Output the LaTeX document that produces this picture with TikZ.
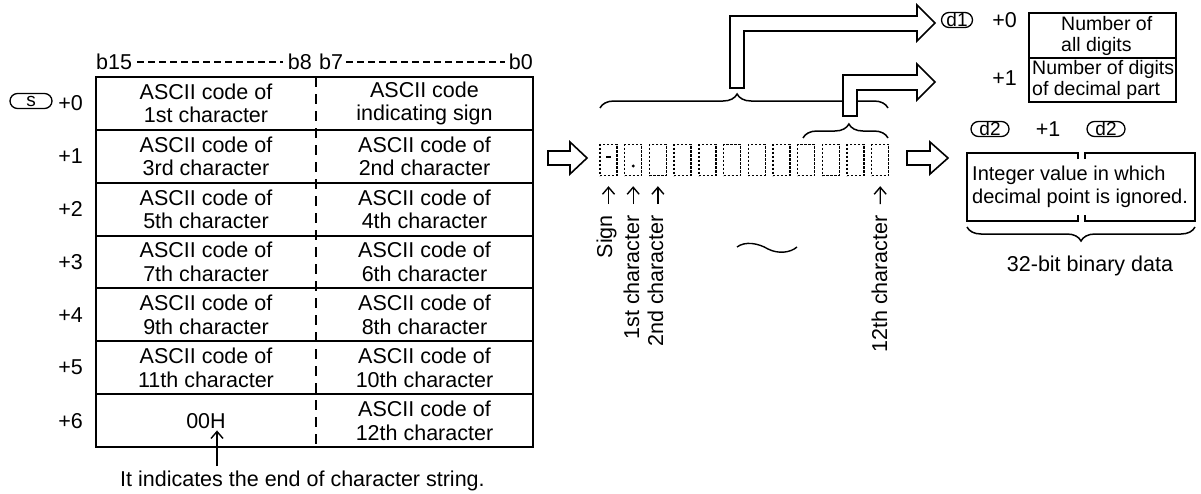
\documentclass[tikz,border=0pt]{standalone}
\usepackage{fontspec}
\setmainfont{Liberation Sans}
\usetikzlibrary{arrows.meta,decorations.pathreplacing,calc}
\begin{document}
\begin{tikzpicture}[x=1pt,y=-1pt,
  txt/.style={font=\fontsize{21.5}{23.5}\selectfont, align=center, inner sep=0pt},
  sml/.style={font=\fontsize{19.5}{21}\selectfont, align=left, inner sep=0pt},
  mid/.style={font=\fontsize{20}{23}\selectfont, align=left, inner sep=0pt},
  ln/.style={line width=2pt},
  hdash/.style={line width=1.2pt, dash pattern=on 7pt off 4pt},
  vdash/.style={line width=2pt, dash pattern=on 10pt off 7pt},
  pill/.style={draw, line width=1.3pt, rounded corners=7.5pt, minimum height=15pt, inner sep=0pt, font=\fontsize{19}{19}\selectfont},
  hollow/.style={draw, line width=1.6pt, fill=white, line join=miter},
  dotbox/.style={draw, line width=1.4pt, dash pattern=on 2.2pt off 1.8pt, minimum width=17pt, minimum height=31pt, inner sep=0pt},
  uparr/.style={-{Straight Barb[length=7pt,width=12pt]}, line width=1.4pt},
  brc/.style={decorate, line width=1.5pt},
]
\useasboundingbox (0,0) rectangle (1201,493);

% ---------- header ----------
\node[txt, anchor=west] (b15) at (96,62) {b15};
\node[txt, anchor=east] (b8) at (312,62) {b8};
\node[txt, anchor=west] (b7) at (319,62) {b7};
\node[txt, anchor=east] (b0) at (533,62) {b0};
\draw[hdash] ([xshift=5pt]b15.east) -- ([xshift=-5pt]b8.west);
\draw[hdash] ([xshift=3pt]b7.east) -- ([xshift=-4pt]b0.west);

% ---------- table ----------
\draw[ln] (96,77) rectangle (533,447);
\foreach \k in {1,...,6} \draw[ln] (96,{77+52.857*\k}) -- (533,{77+52.857*\k});
\draw[vdash] (316,77) -- (316,447);

\node[txt] (l0) at (206,103.4) {ASCII code of\\1st character};
\node[txt] (r0) at (424.5,103.4) {ASCII code\\indicating sign};
\node[txt] (l1) at (206,156.3) {ASCII code of\\3rd character};
\node[txt] (r1) at (424.5,156.3) {ASCII code of\\2nd character};
\node[txt] (l2) at (206,209.1) {ASCII code of\\5th character};
\node[txt] (r2) at (424.5,209.1) {ASCII code of\\4th character};
\node[txt] (l3) at (206,262) {ASCII code of\\7th character};
\node[txt] (r3) at (424.5,262) {ASCII code of\\6th character};
\node[txt] (l4) at (206,314.9) {ASCII code of\\9th character};
\node[txt] (r4) at (424.5,314.9) {ASCII code of\\8th character};
\node[txt] (l5) at (206,367.7) {ASCII code of\\11th character};
\node[txt] (r5) at (424.5,367.7) {ASCII code of\\10th character};
\node[txt] (n00H) at (206,420.6) {00H};
\node[txt] (r6) at (424.5,420.6) {ASCII code of\\12th character};

% ---------- left labels ----------
\node[pill, minimum width=42pt] (s) at (31,101) {s};
\node[txt, anchor=east] (p0) at (83,103.4) {+0};
\node[txt, anchor=east] (p1) at (83,156.3) {+1};
\node[txt, anchor=east] (p2) at (83,209.1) {+2};
\node[txt, anchor=east] (p3) at (83,262) {+3};
\node[txt, anchor=east] (p4) at (83,314.9) {+4};
\node[txt, anchor=east] (p5) at (83,367.7) {+5};
\node[txt, anchor=east] (p6) at (83,420.6) {+6};

% ---------- end-of-string note ----------
\coordinate (eos) at (217,466);
\draw[uparr, shorten >=2pt] (eos) -- (eos |- n00H.south);
\node[txt, anchor=west] (note) at (120,481) {It indicates the end of character string.};

% ---------- hollow arrow 1 ----------
\draw[hollow] (548,151) -- (570,151) -- (570,142) -- (587,158) -- (570,174) -- (570,165) -- (548,165) -- cycle;

% ---------- character boxes ----------
\foreach \i in {1,...,12} {
  \node[dotbox] (c\i) at ({608.5+(\i-1)*24.7},160) {};
}
\draw[line width=1.3pt] ($(c1)+(-2.5,-3)$) -- ++(5,0);
\fill ($(c2)+(0,6)$) circle (1.7pt);

% arrows + labels under boxes
\coordinate (a1) at (608.5,204);
\coordinate (a2) at (633.2,204);
\coordinate (a3) at (657.9,204);
\coordinate (a12) at (880.2,204);
\draw[uparr, shorten >=10pt] (a1) -- (c1.south);
\draw[uparr, shorten >=10pt] (a2) -- (c2.south);
\draw[uparr, shorten >=10pt] (a3) -- (c3.south);
\draw[uparr, shorten >=10pt] (a12) -- (c12.south);
\node[txt, rotate=90, anchor=base east] (lsign) at (612,215) {Sign};
\node[txt, rotate=90, anchor=base east] (lc1) at (639,215) {1st character};
\node[txt, rotate=90, anchor=base east] (lc2) at (663,215) {2nd character};
\node[txt, rotate=90, anchor=base east] (lc12) at (887,215) {12th character};

% wave
\draw[line width=1.4pt] (737,247) .. controls (745,241) and (758,243) .. (768,249) .. controls (778,254) and (790,253) .. (797,247);

% ---------- braces ----------
\draw[brc, decoration={brace, amplitude=14pt, aspect=0.476}] (600,108) -- (888,108);
\draw[brc, decoration={brace, amplitude=14pt, aspect=0.54}] (803,138) -- (888,138);

% ---------- bent hollow arrows ----------
\draw[hollow] (730,88) -- (730,16) -- (917,16) -- (917,5) -- (935,23) -- (917,41) -- (917,31) -- (744,31) -- (744,88) -- cycle;
\draw[hollow] (843,116) -- (843,75) -- (917,75) -- (917,64) -- (935,82) -- (917,100) -- (917,90) -- (857,90) -- (857,116) -- cycle;

% ---------- d1 area ----------
\node[pill, minimum width=31pt] (d1) at (957,20) {d1};
\node[txt, anchor=east] (q0) at (1017,20) {+0};
\node[txt, anchor=east] (q1) at (1017,78) {+1};
\draw[ln] (1029,13) rectangle (1176,102);
\draw[ln] (1029,58) -- (1176,58);
\node[sml, anchor=west] (nall) at (1061,36) {Number of\\all digits};
\node[sml, anchor=west] (ndec) at (1032,80) {Number of digits\\of decimal part};

% ---------- d2 area ----------
\node[pill, minimum width=38pt] (d2a) at (990,129) {d2};
\node[txt] (q2) at (1048,129) {+1};
\node[pill, minimum width=38pt] (d2b) at (1106,129) {d2};
\draw[hollow] (907,151) -- (930,151) -- (930,142) -- (948,158) -- (930,174) -- (930,165) -- (907,165) -- cycle;
\draw[ln] (1078,159) -- (1078,153) -- (967,153) -- (967,221) -- (1078,221) -- (1078,215);
\draw[ln] (1085,159) -- (1085,153) -- (1195,153) -- (1195,221) -- (1085,221) -- (1085,215);
\node[mid, anchor=west] (intv) at (972,187) {Integer value in which\\decimal point is ignored.};
\draw[brc, decoration={brace, amplitude=14pt, aspect=0.5}] (1195,227) -- (967,227);
\node[txt] (bin) at (1090,266) {32-bit binary data};
\end{tikzpicture}
\end{document}
